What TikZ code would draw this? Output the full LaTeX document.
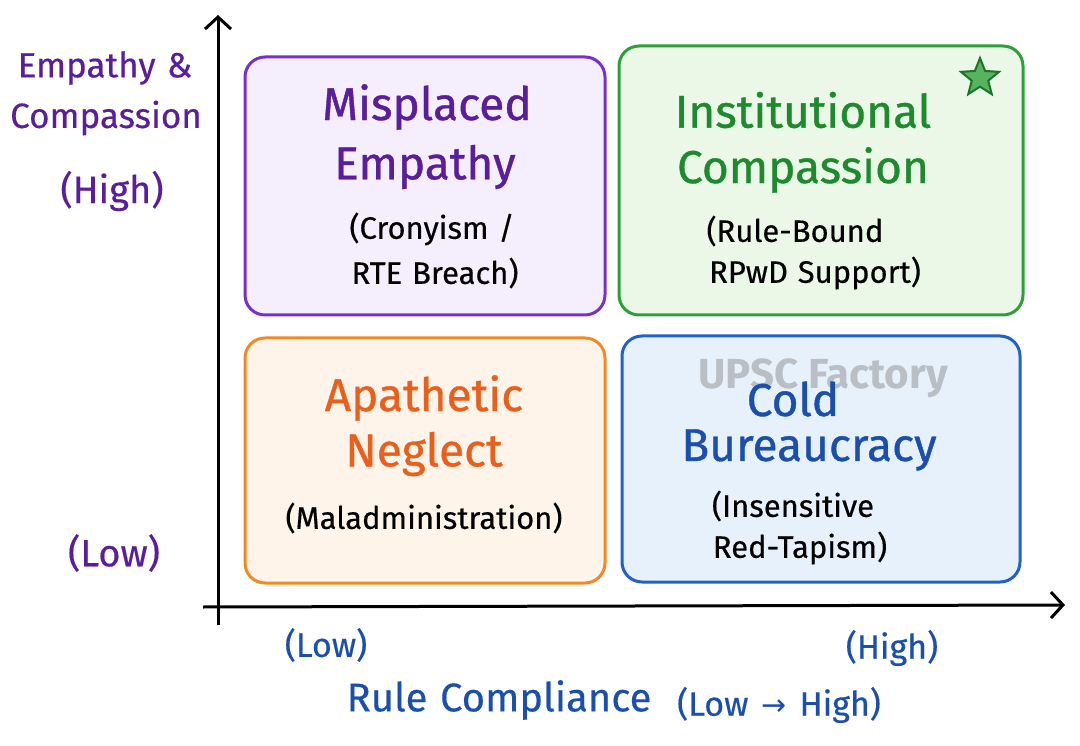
\documentclass[tikz,border=0pt]{standalone}
\usepackage{fontspec}
\setmainfont{Fira Sans}
\newfontfamily\hand{Fira Sans}[WordSpace=2,FakeBold=0.4]
\newfontfamily\handn{Fira Sans}[WordSpace=1.2,FakeBold=0.4]
\newfontfamily\handb{Fira Sans}[WordSpace=2,FakeBold=0.8]
\newfontfamily\symfont{DejaVu Sans}
\usetikzlibrary{arrows.meta,shapes.geometric}
\definecolor{pTxt}{HTML}{5A1E9C}
\definecolor{pLine}{HTML}{7A30C8}
\definecolor{pFill}{HTML}{F5EFFD}
\definecolor{gTxt}{HTML}{1E8A2E}
\definecolor{gLine}{HTML}{2EA03A}
\definecolor{gFill}{HTML}{EBF8E7}
\definecolor{oTxt}{HTML}{E8601C}
\definecolor{oLine}{HTML}{F08A24}
\definecolor{oFill}{HTML}{FEF4EA}
\definecolor{bTxt}{HTML}{1A4FB0}
\definecolor{bLine}{HTML}{2262C8}
\definecolor{bFill}{HTML}{E7F1FC}
\definecolor{wmark}{HTML}{B9BFC5}
\newcommand{\fsz}[1]{\fontsize{#1}{#1}\selectfont}
\tikzset{
  quad/.style={line width=3pt, rounded corners=20pt},
  title/.style={font=\handb\fsz{46}, inner sep=0pt},
  sub/.style={font=\hand\fsz{31}, inner sep=0pt, text=black},
  axlab/.style={inner sep=0pt},
  axis/.style={line width=3pt, -{Straight Barb[length=12pt,width=26pt,line width=3pt]}}
}
\begin{document}
\begin{tikzpicture}[x=1pt,y=-1pt]
\useasboundingbox (0,0) rectangle (1080,746);
\fill[white] (0,0) rectangle (1080,746);

% axes
\coordinate (yb) at (218,625);
\coordinate (yt) at (218,15);
\coordinate (xl) at (203,607);
\coordinate (xr) at (1065,605);
\draw[axis] (yb) -- (yt);
\draw[axis] (xl) -- (xr);

% quadrant boxes
\draw[quad, draw=pLine, fill=pFill] (245,57) rectangle (605,315);
\draw[quad, draw=gLine, fill=gFill] (619,46) rectangle (1023,315);
\draw[quad, draw=oLine, fill=oFill] (245,338) rectangle (605,583);
\draw[quad, draw=bLine, fill=bFill] (622,336) rectangle (1020,582);

% watermark
\node[font=\fontsize{42}{44}\selectfont\bfseries, text=wmark, inner sep=0pt] (wm) at (823,378) {UPSC Factory};

% purple quadrant
\node[title, text=pTxt] (p1) at (427,107) {Misplaced};
\node[title, text=pTxt] (p2) at (425,167) {Empathy};
\node[sub] (p3) at (432,229) {(Cronyism /};
\node[sub] (p4) at (435,273) {RTE Breach)};

% green quadrant
\node[title, text=gTxt] (g1) at (803,110) {Institutional};
\node[title, text=gTxt] (g2) at (803,170) {Compassion};
\node[sub] (g3) at (795,231) {(Rule-Bound};
\node[sub] (g4) at (815,273) {RPwD Support)};
\node[star, star points=5, star point ratio=2.3, minimum size=40pt, inner sep=0pt, fill=gLine!80!white, draw=gTxt!85!black, line width=2pt] (star) at (980,78) {};

% orange quadrant
\node[title, text=oTxt] (o1) at (424,398) {Apathetic};
\node[title, text=oTxt] (o2) at (424,454) {Neglect};
\node[sub] (o3) at (424,518) {(Maladministration)};

% blue quadrant
\node[title, text=bTxt] (b1) at (793,399) {Cold};
\node[title, text=bTxt] (b2) at (809,450) {Bureaucracy};
\node[sub] (b3) at (793,506) {(Insensitive};
\node[sub] (b4) at (800,548) {Red-Tapism)};

% y-axis labels
\node[axlab, text=pTxt, font=\handn\fsz{35}] (ya) at (105,68) {Empathy \&};
\node[axlab, text=pTxt, font=\handn\fsz{35}] (yb2) at (106,118) {Compassion};
\node[axlab, text=pTxt, font=\handn\fsz{38}] (yh) at (112,191) {(High)};
\node[axlab, text=pTxt, font=\handn\fsz{38}] (yl) at (114,553) {(Low)};

% x-axis labels
\node[axlab, text=bTxt, font=\handn\fsz{34}] (xlo) at (326,645) {(Low)};
\node[axlab, text=bTxt, font=\handn\fsz{34}] (xhi) at (892,648) {(High)};
\node[axlab, text=bTxt, font=\handn\fsz{40}] (xt) at (499,700) {Rule Compliance};
\node[axlab, text=bTxt, font=\hand\fsz{34}] (xt2) at (779,705) {(Low {\symfont\fsz{30}→} High)};
\end{tikzpicture}
\end{document}
